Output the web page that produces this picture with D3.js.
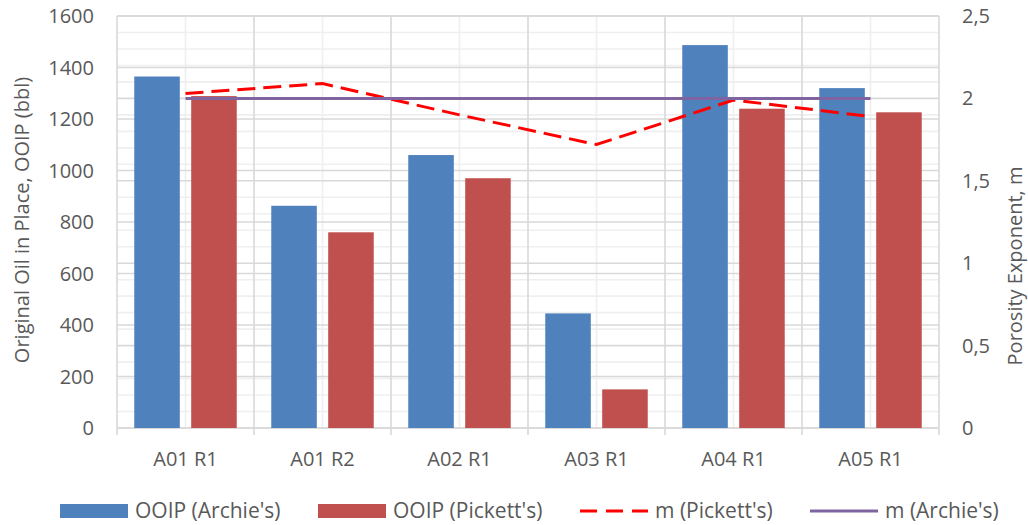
<!DOCTYPE html>
<html>
<head>
<meta charset="utf-8">
<script src="https://cdn.jsdelivr.net/npm/d3@7"></script>
<style>
  html, body { margin: 0; padding: 0; background: #fff; }
  svg { display: block; }
  text { font-family: "Open Sans", "Liberation Sans", sans-serif; fill: #595959; }
</style>
</head>
<body>
<svg id="chart" width="1028" height="525"></svg>
<script>
// Wells / reservoirs
const categories = ["A01 R1", "A01 R2", "A02 R1", "A03 R1", "A04 R1", "A05 R1"];
// Original oil in place, bbl
const ooipArchie  = [1365, 863, 1060, 445, 1487, 1320];
const ooipPickett = [1289, 760, 970, 150, 1240, 1226];
// Porosity (cementation) exponent m
const mPickett = [2.03, 2.09, 1.90, 1.72, 1.99, 1.89];
const mArchie  = [2, 2, 2, 2, 2, 2];
// Axis ticks
const leftTicks  = [0, 200, 400, 600, 800, 1000, 1200, 1400, 1600];
const rightTicks = [0, 0.5, 1, 1.5, 2, 2.5];
const rightTickLabels = ["0", "0,5", "1", "1,5", "2", "2,5"];

const barSeries = [
  { name: "OOIP (Archie's)",  values: ooipArchie,  color: "#4F81BD" },
  { name: "OOIP (Pickett's)", values: ooipPickett, color: "#C0504D" }
];

const svg = d3.select("#chart");
const plot = { left: 117, right: 939, top: 16, bottom: 428 };

const x = d3.scaleBand().domain(categories).range([plot.left, plot.right]).padding(0);
const step = x.bandwidth();
const xSub = d3.scaleBand()
  .domain(barSeries.map(s => s.name))
  .range([step * 0.126, step * 0.874])
  .paddingInner(0.2)
  .paddingOuter(0);
const yL = d3.scaleLinear().domain([0, 1600]).range([plot.bottom, plot.top]);
const yR = d3.scaleLinear().domain([0, 2.5]).range([plot.bottom, plot.top]);

const grid = svg.append("g");
// minor horizontal grid (secondary axis, every 0.1)
const minorR = d3.range(1, 25).map(i => i / 10).filter(v => Math.abs(v * 2 - Math.round(v * 2)) > 1e-6);
grid.selectAll(".hminor").data(minorR).join("line")
  .attr("x1", plot.left).attr("x2", plot.right)
  .attr("y1", d => yR(d)).attr("y2", d => yR(d))
  .attr("stroke", "#efefef").attr("stroke-width", 1.6);
// minor vertical grid at category centers
grid.selectAll(".vminor").data(categories).join("line")
  .attr("x1", d => x(d) + step / 2).attr("x2", d => x(d) + step / 2)
  .attr("y1", plot.top).attr("y2", plot.bottom)
  .attr("stroke", "#efefef").attr("stroke-width", 1.6);
// major horizontal grid, secondary axis
grid.selectAll(".hmajR").data(rightTicks).join("line")
  .attr("x1", plot.left).attr("x2", plot.right)
  .attr("y1", d => yR(d)).attr("y2", d => yR(d))
  .attr("stroke", "#d9d9d9").attr("stroke-width", 1.6);
// major horizontal grid, primary axis
grid.selectAll(".hmajL").data(leftTicks).join("line")
  .attr("x1", plot.left).attr("x2", plot.right)
  .attr("y1", d => yL(d)).attr("y2", d => yL(d))
  .attr("stroke", "#d9d9d9").attr("stroke-width", 1.6);
// category boundaries with tick marks below the axis
const bounds = categories.map(c => x(c)).concat([plot.right]);
grid.selectAll(".vmaj").data(bounds).join("line")
  .attr("x1", d => d).attr("x2", d => d)
  .attr("y1", plot.top).attr("y2", plot.bottom + 7)
  .attr("stroke", "#d9d9d9").attr("stroke-width", 1.6);

// bars
const bars = svg.append("g");
barSeries.forEach(s => {
  bars.selectAll(null).data(categories).join("rect")
    .attr("x", (c) => x(c) + xSub(s.name))
    .attr("width", xSub.bandwidth())
    .attr("y", (c, i) => yL(s.values[i]))
    .attr("height", (c, i) => plot.bottom - yL(s.values[i]))
    .attr("fill", s.color);
});

// m lines on the secondary axis
const lineGen = d3.line().x(d => x(d.c) + step / 2).y(d => yR(d.v));
svg.append("path")
  .attr("d", lineGen(categories.map((c, i) => ({ c, v: mPickett[i] }))))
  .attr("fill", "none").attr("stroke", "#FF0000").attr("stroke-width", 3)
  .attr("stroke-dasharray", "18 8");
svg.append("path")
  .attr("d", lineGen(categories.map((c, i) => ({ c, v: mArchie[i] }))))
  .attr("fill", "none").attr("stroke", "#8064A2").attr("stroke-width", 3);

// axis labels
const fs = 19.5;
svg.append("g").selectAll("text").data(leftTicks).join("text")
  .attr("x", 94).attr("y", d => yL(d)).attr("dy", "0.35em")
  .attr("text-anchor", "end").attr("font-size", 20).text(d => d);
svg.append("g").selectAll("text").data(rightTicks).join("text")
  .attr("x", 962).attr("y", d => yR(d)).attr("dy", "0.35em")
  .attr("text-anchor", "start").attr("font-size", 20).text((d, i) => rightTickLabels[i]);
svg.append("g").selectAll("text").data(categories).join("text")
  .attr("x", d => x(d) + step / 2).attr("y", 466)
  .attr("text-anchor", "middle").attr("font-size", 20).text(d => d);

svg.append("text")
  .attr("transform", "translate(29,220) rotate(-90)")
  .attr("text-anchor", "middle").attr("font-size", 20)
  .text("Original Oil in Place, OOIP (bbl)");
svg.append("text")
  .attr("transform", "translate(1022,266) rotate(-90)")
  .attr("text-anchor", "middle").attr("font-size", 20)
  .text("Porosity Exponent, m");

// legend
const legend = svg.append("g");
const legendItems = [
  { name: "OOIP (Archie's)",  type: "rect", color: "#4F81BD", x: 60 },
  { name: "OOIP (Pickett's)", type: "rect", color: "#C0504D", x: 318 },
  { name: "m (Pickett's)",    type: "dash", color: "#FF0000", x: 580 },
  { name: "m (Archie's)",     type: "line", color: "#8064A2", x: 810 }
];
legendItems.forEach(it => {
  if (it.type === "rect") {
    legend.append("rect").attr("x", it.x).attr("y", 504).attr("width", 68).attr("height", 14).attr("fill", it.color);
  } else {
    legend.append("line").attr("x1", it.x).attr("x2", it.x + 68).attr("y1", 511).attr("y2", 511)
      .attr("stroke", it.color).attr("stroke-width", 3)
      .attr("stroke-dasharray", it.type === "dash" ? "17 9" : null);
  }
  legend.append("text").attr("x", it.x + 75).attr("y", 511).attr("dy", "0.35em")
    .attr("font-size", 21).text(it.name);
});
</script>
</body>
</html>
